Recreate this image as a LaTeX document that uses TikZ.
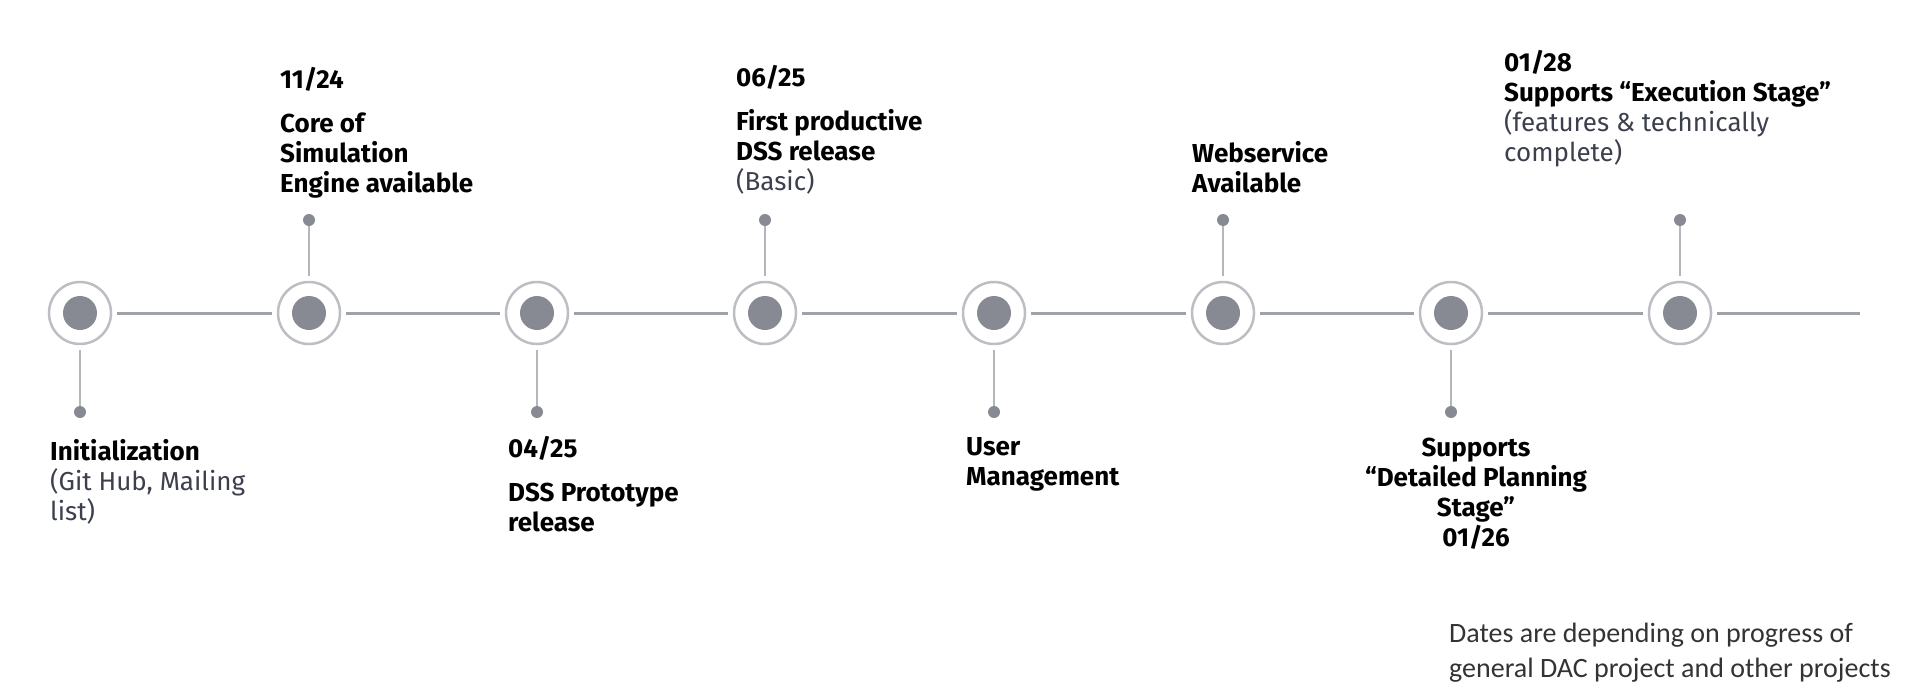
\documentclass[tikz,border=0pt]{standalone}
\usepackage{fontspec}
\setmainfont{Fira Sans}
\newfontfamily\notefont{Carlito}
\definecolor{ringc}{HTML}{BCBEC3}
\definecolor{fillc}{HTML}{878A93}
\definecolor{linec}{HTML}{9EA2A9}
\definecolor{stemc}{HTML}{B3B6BB}
\definecolor{subc}{HTML}{3C3F4C}
\definecolor{notec}{HTML}{333333}
\begin{document}
\begin{tikzpicture}[x=1pt,y=-1pt,
  ring/.style={circle,draw=ringc,line width=2.5pt,minimum size=62pt,inner sep=0pt,outer sep=6pt,fill=white},
  core/.style={circle,fill=fillc,minimum size=34pt,inner sep=0pt},
  sdot/.style={circle,fill=fillc,minimum size=12pt,inner sep=0pt},
  tl/.style={draw=linec,line width=3pt},
  stemline/.style={draw=stemc,line width=2pt},
  lbl/.style={anchor=north west,inner sep=0pt,align=left,font=\fontsize{26}{30}\selectfont\bfseries},
  notelbl/.style={anchor=north west,inner sep=0pt,align=left,text=notec,font=\notefont\fontsize{28}{35}\selectfont}]
\useasboundingbox (0,0) rectangle (1910,688);
% milestones
\foreach \i/\x in {1/80,2/309,3/537,4/765,5/994,6/1223,7/1451,8/1680}{
  \node[ring] (m\i) at (\x,313) {};
  \node[core] (c\i) at (m\i) {};
}
\coordinate (end) at (1860,313);
\draw[tl] (m1) -- (m2);
\draw[tl] (m2) -- (m3);
\draw[tl] (m3) -- (m4);
\draw[tl] (m4) -- (m5);
\draw[tl] (m5) -- (m6);
\draw[tl] (m6) -- (m7);
\draw[tl] (m7) -- (m8);
\draw[tl] (m8) -- (end);
% stems
\node[sdot] (d1) at (80,412) {};
\node[sdot] (d2) at (309,220) {};
\node[sdot] (d3) at (537,412) {};
\node[sdot] (d4) at (765,220) {};
\node[sdot] (d5) at (994,412) {};
\node[sdot] (d6) at (1223,220) {};
\node[sdot] (d7) at (1451,412) {};
\node[sdot] (d8) at (1680,220) {};
\draw[stemline] (m1) -- (d1);
\draw[stemline] (m2) -- (d2);
\draw[stemline] (m3) -- (d3);
\draw[stemline] (m4) -- (d4);
\draw[stemline] (m5) -- (d5);
\draw[stemline] (m6) -- (d6);
\draw[stemline] (m7) -- (d7);
\draw[stemline] (m8) -- (d8);
% labels
\node[lbl] (l1) at (50,439) {Initialization\\{\mdseries\color{subc}(Git Hub, Mailing}\\{\mdseries\color{subc}list)}};
\node[lbl] (l2) at (280,67) {11/24\\[14pt]Core of\\Simulation\\Engine available};
\node[lbl] (l3) at (508,436) {04/25\\[14pt]DSS Prototype\\release};
\node[lbl] (l4) at (736,65) {06/25\\[14pt]First productive\\DSS release\\{\mdseries\color{subc}(Basic)}};
\node[lbl] (l5) at (966,437) {User\\Management};
\node[lbl] (l6) at (1192,141) {Webservice\\Available};
\node[lbl,anchor=north,align=center] (l7) at (1476,438) {Supports\\“Detailed Planning\\Stage”\\01/26};
\node[lbl] (l8) at (1504,50) {01/28\\Supports “Execution Stage”\\{\mdseries\color{subc}(features \& technically}\\{\mdseries\color{subc}complete)}};
\node[notelbl] (note) at (1449,623) {Dates are depending on progress of\\general DAC project and other projects};
\end{tikzpicture}
\end{document}
